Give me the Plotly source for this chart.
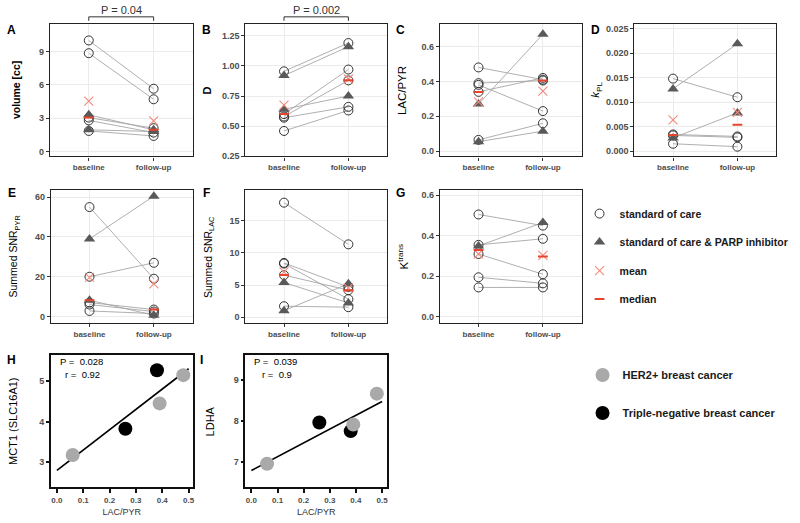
import numpy as np
import plotly.graph_objects as go

W, H = 800, 523
FONT = "Liberation Sans, Arial, Helvetica, sans-serif"

timepoints = ["baseline", "follow-up"]

# ---------------- data ----------------
# A: tumour volume [cc]
vol_soc_base = [10.0, 8.85, 3.05, 2.8, 1.85]
vol_soc_fu = [5.65, 4.7, 2.1, 1.7, 1.4]
vol_parp_base = [3.3, 1.95]
vol_parp_fu = [1.95, 1.8]

# B: D
d_soc_base = [0.955, 0.60, 0.58, 0.57, 0.46]
d_soc_fu = [1.19, 0.97, 0.88, 0.66, 0.63]
d_parp_base = [0.92, 0.64]
d_parp_fu = [1.16, 0.75]

# C: LAC/PYR
lp_soc_base = [0.48, 0.39, 0.38, 0.34, 0.065]
lp_soc_fu = [0.41, 0.405, 0.23, 0.42, 0.16]
lp_parp_base = [0.27, 0.055]
lp_parp_fu = [0.67, 0.115]

# D: kPL
kpl_soc_base = [0.0148, 0.0034, 0.0032, 0.0015]
kpl_soc_fu = [0.0110, 0.0030, 0.0028, 0.0009]
kpl_parp_base = [0.0127, 0.0027]
kpl_parp_fu = [0.0219, 0.0078]

# E: summed SNR PYR
spyr_soc_base = [55, 20, 7, 6, 2.8]
spyr_soc_fu = [19, 27, 3.5, 2.5, 1.5]
spyr_parp_base = [39, 8.2]
spyr_parp_fu = [60.5, 0.6]

# F: summed SNR LAC
slac_soc_base = [17.85, 8.45, 8.35, 6.55, 1.7]
slac_soc_fu = [11.35, 4.7, 2.8, 4.2, 1.55]
slac_parp_base = [5.4, 1.0]
slac_parp_fu = [2.2, 5.2]

# G: Ktrans
kt_soc_base = [0.505, 0.355, 0.31, 0.195, 0.145]
kt_soc_fu = [0.45, 0.385, 0.21, 0.165, 0.145]
kt_parp_base = [0.35]
kt_parp_fu = [0.465]

# H / I: correlation with LAC/PYR
her2_lacpyr = [0.06, 0.39, 0.48]
her2_mct1 = [3.17, 4.45, 5.15]
her2_ldha = [6.95, 7.91, 8.67]
tnbc_lacpyr = [0.26, 0.38]
tnbc_mct1 = [3.82, 5.27]
tnbc_ldha = [7.96, 7.75]
fit_x_span = [0.0, 0.5]
stat_H = ["P =  0.028", "r =  0.92"]
stat_I = ["P =  0.039", "r =  0.9"]

p_A = "P = 0.04"
p_B = "P = 0.002"

# tick values
ticks_A = [0, 3, 6, 9]
ticks_B = [0.25, 0.50, 0.75, 1.00, 1.25]
ticks_C = [0.0, 0.2, 0.4, 0.6]
ticks_D = [0.000, 0.005, 0.010, 0.015, 0.020, 0.025]
ticks_E = [0, 20, 40, 60]
ticks_F = [0, 5, 10, 15]
ticks_G = [0.0, 0.2, 0.4, 0.6]
ticks_H = [3, 4, 5]
ticks_I = [7, 8, 9]
ticks_lp = [0.0, 0.1, 0.2, 0.3, 0.4, 0.5]

# ---------------- layout helpers ----------------
boxes = {
    1: (50, 24, 193, 158), 2: (246, 24, 388, 158), 3: (441, 24, 583, 158), 4: (636, 24, 778, 158),
    5: (51, 192, 193, 326), 6: (246, 192, 388, 326), 7: (441, 192, 583, 326),
    8: (51, 358, 193, 492), 9: (246, 358, 388, 492),
}


def px(x):
    return x / W


def py(y):
    return 1 - y / H


def dom(i):
    l, t, r, b = boxes[i]
    return [px(l), px(r)], [py(b), py(t)]


C_CIRC = "#333333"
C_TRI = "#595959"
C_LINE = "#a6a6a6"
C_MEAN = "#f28a7c"
C_MED = "#e8432c"
GRID = "#ebebeb"
TICKC = "#4d4d4d"

fig = go.Figure()

paired = [
    (1, vol_soc_base, vol_soc_fu, vol_parp_base, vol_parp_fu, ticks_A, None, [-0.45, 11.5]),
    (2, d_soc_base, d_soc_fu, d_parp_base, d_parp_fu, ticks_B, ".2f", [0.248, 1.35]),
    (3, lp_soc_base, lp_soc_fu, lp_parp_base, lp_parp_fu, ticks_C, ".1f", [-0.03, 0.73]),
    (4, kpl_soc_base, kpl_soc_fu, kpl_parp_base, kpl_parp_fu, ticks_D, ".3f", [-0.0011, 0.026]),
    (5, spyr_soc_base, spyr_soc_fu, spyr_parp_base, spyr_parp_fu, ticks_E, None, [-3.2, 63.5]),
    (6, slac_soc_base, slac_soc_fu, slac_parp_base, slac_parp_fu, ticks_F, None, [-0.9, 19.8]),
    (7, kt_soc_base, kt_soc_fu, kt_parp_base, kt_parp_fu, ticks_G, ".1f", [-0.03, 0.625]),
]

layout_axes = {}
for (i, sb, sf, pb, pf, tv, fmt, yr) in paired:
    xa = "x" if i == 1 else f"x{i}"
    ya = "y" if i == 1 else f"y{i}"
    first = i == 1
    base = list(sb) + list(pb)
    fu = list(sf) + list(pf)
    # connecting lines
    lx, ly = [], []
    for b, f in zip(base, fu):
        lx += [1, 2, None]
        ly += [b, f, None]
    fig.add_trace(go.Scatter(x=lx, y=ly, mode="lines", xaxis=xa, yaxis=ya,
                             line=dict(color=C_LINE, width=0.9), showlegend=False, hoverinfo="skip"))
    # standard of care
    fig.add_trace(go.Scatter(x=[1] * len(sb) + [2] * len(sf), y=list(sb) + list(sf), mode="markers",
                             xaxis=xa, yaxis=ya, name="standard of care", legendgroup="g1",
                             showlegend=first, legendrank=1,
                             marker=dict(symbol="circle-open", size=9, color=C_CIRC, line=dict(width=1))))
    # PARP inhibitor
    fig.add_trace(go.Scatter(x=[1] * len(pb) + [2] * len(pf), y=list(pb) + list(pf), mode="markers",
                             xaxis=xa, yaxis=ya, name="standard of care & PARP inhibitor", legendgroup="g2",
                             showlegend=first, legendrank=2,
                             marker=dict(symbol="triangle-up", size=10, color=C_TRI, line=dict(width=0))))
    # mean
    fig.add_trace(go.Scatter(x=[1, 2], y=[float(np.mean(base)), float(np.mean(fu))], mode="markers",
                             xaxis=xa, yaxis=ya, name="mean", legendgroup="g3", showlegend=first, legendrank=3,
                             marker=dict(symbol="x-thin-open", size=9, color=C_MEAN, line=dict(width=1.1))))
    # median
    fig.add_trace(go.Scatter(x=[1, 2], y=[float(np.median(base)), float(np.median(fu))], mode="markers",
                             xaxis=xa, yaxis=ya, name="median", legendgroup="g4", showlegend=first, legendrank=4,
                             marker=dict(symbol="line-ew-open", size=7, color=C_MED, line=dict(width=2))))
    dx, dy = dom(i)
    xkey = "xaxis" if i == 1 else f"xaxis{i}"
    ykey = "yaxis" if i == 1 else f"yaxis{i}"
    layout_axes[xkey] = dict(domain=dx, anchor=ya, range=[0.4, 2.6], tickvals=[1, 2], ticktext=timepoints,
                             showgrid=True, gridcolor=GRID, gridwidth=1, zeroline=False,
                             showline=True, mirror=True, linecolor="#222222", linewidth=1.2,
                             ticks="outside", ticklen=3, tickcolor="#333333",
                             tickfont=dict(family=FONT, size=8, color=TICKC, weight="bold"))
    ydict = dict(domain=dy, anchor=xa, range=yr, tickvals=tv,
                 showgrid=True, gridcolor=GRID, gridwidth=1, zeroline=False,
                 showline=True, mirror=True, linecolor="#222222", linewidth=1.2,
                 ticks="outside", ticklen=3, tickcolor="#333333",
                 tickfont=dict(family=FONT, size=9, color=TICKC, weight="bold"))
    if fmt:
        ydict["tickformat"] = fmt
    layout_axes[ykey] = ydict

# correlation panels
corr = [
    (8, tnbc_mct1, her2_mct1, ticks_H, [2.37, 5.66], [-0.023, 0.515], stat_H),
    (9, tnbc_ldha, her2_ldha, ticks_I, [6.37, 9.63], [-0.023, 0.519], stat_I),
]
for (i, tn_y, h_y, tv, yr, xr, stat) in corr:
    xa, ya = f"x{i}", f"y{i}"
    first = i == 8
    allx = np.array(tnbc_lacpyr + her2_lacpyr)
    ally = np.array(list(tn_y) + list(h_y))
    slope, icpt = np.polyfit(allx, ally, 1)
    fx = np.array(fit_x_span)
    fig.add_trace(go.Scatter(x=fx, y=slope * fx + icpt, mode="lines", xaxis=xa, yaxis=ya,
                             line=dict(color="black", width=1.6), showlegend=False, hoverinfo="skip"))
    fig.add_trace(go.Scatter(x=tnbc_lacpyr, y=tn_y, mode="markers", xaxis=xa, yaxis=ya,
                             name="Triple-negative breast cancer", legend="legend2", legendrank=2,
                             legendgroup="tnbc", showlegend=first, marker=dict(size=14, color="black")))
    fig.add_trace(go.Scatter(x=her2_lacpyr, y=h_y, mode="markers", xaxis=xa, yaxis=ya,
                             name="HER2+ breast cancer", legend="legend2", legendrank=1,
                             legendgroup="her2", showlegend=first, marker=dict(size=14, color="#a9a9a9")))
    dx, dy = dom(i)
    layout_axes[f"xaxis{i}"] = dict(domain=dx, anchor=ya, range=xr, tickvals=ticks_lp, tickformat=".1f",
                                    showgrid=False, zeroline=False, showline=True, mirror=True,
                                    linecolor="#111111", linewidth=1.6, ticks="outside", ticklen=4,
                                    tickcolor="#111111", tickwidth=1.6,
                                    tickfont=dict(family=FONT, size=8, color=TICKC, weight="bold"),
                                    title=dict(text="LAC/PYR", standoff=5,
                                               font=dict(family=FONT, size=9, color="#333333")))
    layout_axes[f"yaxis{i}"] = dict(domain=dy, anchor=xa, range=yr, tickvals=tv,
                                    showgrid=False, zeroline=False, showline=True, mirror=True,
                                    linecolor="#111111", linewidth=1.6, ticks="outside", ticklen=3,
                                    tickcolor="#111111", tickwidth=1.6,
                                    tickfont=dict(family=FONT, size=9, color=TICKC, weight="bold"))

annotations = []


def ann(text, x, y, size=11, bold=False, angle=0, xanchor="center", color="#1a1a1a"):
    annotations.append(dict(text=text, x=px(x), y=py(y), xref="paper", yref="paper", showarrow=False,
                            xanchor=xanchor, yanchor="middle", textangle=angle,
                            font=dict(family=FONT, size=size, color=color,
                                      weight="bold" if bold else "normal")))


# panel letters
for lab, x, y in [("A", 12, 30), ("B", 207, 30), ("C", 402, 30), ("D", 597, 30),
                  ("E", 12, 195), ("F", 207, 195), ("G", 402, 195), ("H", 12, 363), ("I", 202, 363)]:
    ann(lab, x, y, size=12, bold=True, color="black")

# y-axis titles
ann("volume [cc]", 16, 91, size=10.5, bold=True, angle=-90, color="black")
ann("D", 208, 91, size=11, bold=True, angle=-90, color="black")
ann("LAC/PYR", 403, 91, size=11.5, angle=-90, color="black")
ann("<i>k</i><sub>PL</sub>", 598, 91, size=11.5, angle=-90, color="black")
ann("Summed SNR<sub>PYR</sub>", 14, 259, size=10.5, angle=-90, color="black")
ann("Summed SNR<sub>LAC</sub>", 209, 259, size=10.5, angle=-90, color="black")
ann("K<sup>trans</sup>", 404, 259, size=11.5, angle=-90, color="black")
ann("MCT1 (SLC16A1)", 13, 425, size=11, angle=-90, color="black")
ann("LDHA", 210, 425, size=11, angle=-90, color="black")

# stats in H / I
ann(stat_H[0], 82, 365, size=9.5, color="black")
ann(stat_H[1], 83, 378, size=9.5, color="black")
ann(stat_I[0], 276, 365, size=9.5, color="black")
ann(stat_I[1], 278, 378, size=9.5, color="black")

# significance brackets over A and B
shapes = []
for xa_ref, ptxt in [("x", p_A), ("x2", p_B)]:
    shapes.append(dict(type="path", xref=xa_ref, yref="paper",
                       path=f"M 1,{py(21)} L 1,{py(17)} L 2,{py(17)} L 2,{py(21)}",
                       line=dict(color="#333333", width=1)))
    annotations.append(dict(text=ptxt, x=1.5, y=py(10), xref=xa_ref, yref="paper", showarrow=False,
                            xanchor="center", yanchor="middle",
                            font=dict(family=FONT, size=11, color="#333333")))

fig.update_layout(
    width=W, height=H, margin=dict(l=0, r=0, t=0, b=0),
    paper_bgcolor="white", plot_bgcolor="white",
    font=dict(family=FONT),
    annotations=annotations, shapes=shapes,
    legend=dict(x=px(581), y=py(201), xanchor="left", yanchor="top", traceorder="grouped",
                tracegroupgap=9.5, bgcolor="rgba(0,0,0,0)",
                font=dict(family=FONT, size=10.5, color="#1a1a1a", weight="bold")),
    legend2=dict(x=px(584), y=py(364), xanchor="left", yanchor="top",
                 tracegroupgap=19, bgcolor="rgba(0,0,0,0)", traceorder="grouped",
                 font=dict(family=FONT, size=11, color="#1a1a1a", weight="bold")),
    **layout_axes,
)

# remove the browser's default 8 px body margin so the 800x523 figure fills the window
fig.write_html("out.html", config={"displayModeBar": False},
               post_script="document.body.style.margin='0px';")
